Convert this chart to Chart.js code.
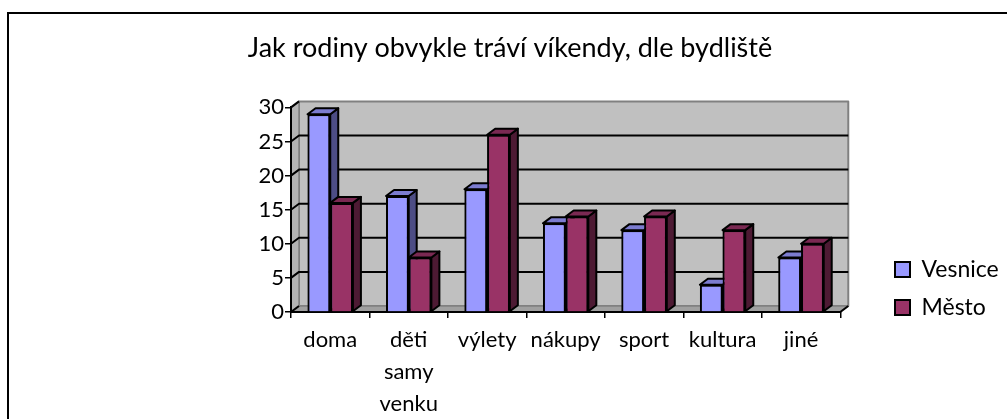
<!DOCTYPE html>
<html>
<head>
<meta charset="utf-8">
<script src="https://cdn.jsdelivr.net/npm/chart.js@4.4.0/dist/chart.umd.min.js"></script>
<style>
html, body { margin: 0; padding: 0; background: #fff; overflow: hidden; }
#frame { position: absolute; left: 7px; top: 12px; width: 1010px; height: 420px;
         border-left: 2px solid #000; border-top: 2px solid #000; }
#frame canvas { position: absolute; left: 0; top: 0; }
</style>
</head>
<body>
<div id="frame"><canvas id="chart" width="1002" height="405" style="width:1002px;height:405px"></canvas></div>
<script>
var categories = ['doma', ['děti', 'samy', 'venku'], 'výlety', 'nákupy', 'sport', 'kultura', 'jiné'];
var vesnice = [29, 17, 18, 13, 12, 4, 8];
var mesto = [16, 8, 26, 14, 14, 12, 10];
var yMax = 30;
var yStep = 5;

var DX = 8, DY = -6;
var FONT = 'Lato, "Open Sans", sans-serif';

function poly(ctx, pts, fill) {
    ctx.beginPath();
    ctx.moveTo(pts[0][0], pts[0][1]);
    for (var i = 1; i < pts.length; i++) ctx.lineTo(pts[i][0], pts[i][1]);
    ctx.closePath();
    if (fill) { ctx.fillStyle = fill; ctx.fill(); }
}

// walls, floor and gridlines drawn behind the bars
var walls3d = {
    id: 'walls3d',
    afterLayout: function (chart) {
        var lg = chart.legend;
        var d = 274.5 - (lg.top + lg.bottom) / 2;
        lg.top += d; lg.bottom += d;
        var dx = 871 - lg.left;
        lg.left += dx; lg.right += dx;
        var t = chart.titleBlock;
        t.left = 0; t.right = chart.width;
    },
    beforeDraw: function (chart) {
        var a = chart.chartArea, ctx = chart.ctx, ys = chart.scales.y;
        ctx.save();
        ctx.lineJoin = 'round';
        // back wall
        poly(ctx, [[a.left + DX, a.top + DY], [a.right + DX, a.top + DY],
                   [a.right + DX, a.bottom + DY], [a.left + DX, a.bottom + DY]], '#c0c0c0');
        ctx.strokeStyle = '#808080'; ctx.lineWidth = 2; ctx.stroke();
        // left wall
        poly(ctx, [[a.left, a.top], [a.left + DX, a.top + DY],
                   [a.left + DX, a.bottom + DY], [a.left, a.bottom]], '#b4b4b4');
        ctx.strokeStyle = '#808080'; ctx.lineWidth = 1.5; ctx.stroke();
        // floor
        poly(ctx, [[a.left, a.bottom], [a.right, a.bottom],
                   [a.right + DX, a.bottom + DY], [a.left + DX, a.bottom + DY]], '#a0a0a0');
        ctx.strokeStyle = '#808080'; ctx.lineWidth = 1.5; ctx.stroke();
        // gridlines on back wall
        ctx.strokeStyle = '#000'; ctx.lineWidth = 2;
        for (var v = 0; v <= yMax; v += yStep) {
            var py = ys.getPixelForValue(v);
            ctx.beginPath();
            ctx.moveTo(a.left, py);
            ctx.lineTo(a.left + DX, py + DY);
            if (v > 0 && v < yMax) ctx.lineTo(a.right + DX, py + DY);
            ctx.stroke();
        }
        // right end of the floor
        ctx.beginPath();
        ctx.moveTo(a.right, a.bottom);
        ctx.lineTo(a.right + DX, a.bottom + DY);
        ctx.stroke();
        ctx.restore();
    },
    afterDatasetsDraw: function (chart) {
        var ctx = chart.ctx;
        ctx.save();
        ctx.lineJoin = 'round';
        chart.data.datasets.forEach(function (ds, di) {
            var meta = chart.getDatasetMeta(di);
            meta.data.forEach(function (bar) {
                bar.draw(ctx);
                var x1 = bar.x - bar.width / 2, x2 = bar.x + bar.width / 2;
                var yt = bar.y, yb = bar.base;
                ctx.strokeStyle = '#000'; ctx.lineWidth = 2;
                poly(ctx, [[x2, yt], [x2 + DX, yt + DY], [x2 + DX, yb + DY], [x2, yb]], ds.sideColor);
                ctx.stroke();
                poly(ctx, [[x1, yt], [x1 + DX, yt + DY], [x2 + DX, yt + DY], [x2, yt]], ds.topColor);
                ctx.stroke();
            });
        });
        ctx.restore();
    }
};

new Chart(document.getElementById('chart'), {
    type: 'bar',
    data: {
        labels: categories,
        datasets: [{
            label: 'Vesnice',
            data: vesnice,
            backgroundColor: '#9999ff',
            borderColor: '#000',
            borderWidth: 2,
            topColor: '#7c7cd0',
            sideColor: '#4d4d85'
        }, {
            label: 'Město',
            data: mesto,
            backgroundColor: '#993366',
            borderColor: '#000',
            borderWidth: 2,
            topColor: '#7a2952',
            sideColor: '#4d1a33'
        }]
    },
    options: {
        responsive: false,
        animation: false,
        categoryPercentage: 0.578,
        barPercentage: 1,
        layout: { padding: { left: 0, right: 42, top: 0, bottom: 0 } },
        plugins: {
            title: {
                display: true,
                text: 'Jak rodiny obvykle tráví víkendy, dle bydliště',
                color: '#000',
                font: { family: FONT, size: 27, weight: 'normal', lineHeight: 1.2 },
                padding: { top: 18, bottom: 43 }
            },
            legend: {
                position: 'right',
                labels: {
                    color: '#000',
                    font: { family: FONT, size: 23 },
                    boxWidth: 15,
                    boxHeight: 15,
                    padding: 15
                }
            },
            tooltip: { enabled: false }
        },
        scales: {
            x: {
                grid: { offset: true, drawOnChartArea: false, drawTicks: true, tickLength: 6, color: '#000', lineWidth: 1.5 },
                border: { display: true, color: '#000', width: 2 },
                ticks: { color: '#000', font: { family: FONT, size: 22, lineHeight: 1.45 }, padding: 6, maxRotation: 0, autoSkip: false },
                afterFit: function (s) { s.height = 107; }
            },
            y: {
                min: 0,
                max: yMax,
                grid: { drawOnChartArea: false, drawTicks: true, tickLength: 6, color: '#000', lineWidth: 1.5 },
                border: { display: true, color: '#000', width: 2 },
                ticks: { stepSize: yStep, color: '#000', font: { family: FONT, size: 22 }, padding: 1 },
                afterFit: function (s) { s.width = 282; }
            }
        }
    },
    plugins: [walls3d]
});
</script>
</body>
</html>
